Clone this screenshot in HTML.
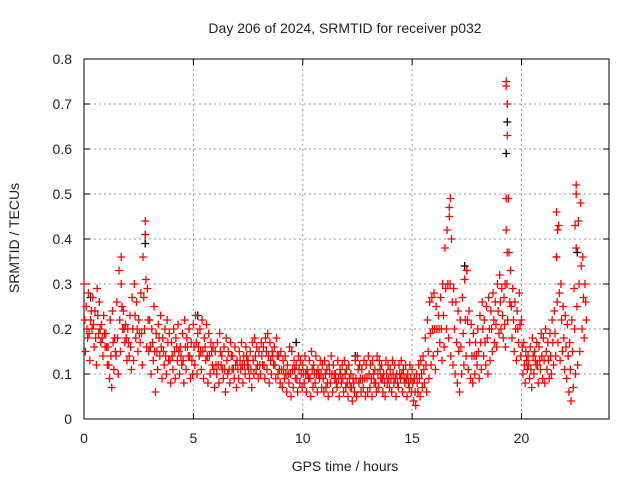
<!DOCTYPE html>
<html><head><meta charset="utf-8"><style>
body{margin:0;background:#fff}
svg text{font-family:"Liberation Sans",sans-serif;font-size:14px;fill:#222}
</style></head><body>
<svg id="chart" width="640" height="480">
<rect width="640" height="480" fill="#fff"/>
<g id="grid"></g>
<g id="axes"></g>
<g id="marks"></g>
<text x="345" y="33" text-anchor="middle">Day 206 of 2024, SRMTID for receiver p032</text>
<text x="345" y="471" text-anchor="middle">GPS time / hours</text>
<text x="19" y="238" text-anchor="middle" transform="rotate(-90 19 238)">SRMTID / TECUs</text>
</svg>
<script>
const xTicks=[0,5,10,15,20];
const yTicks=[0,0.1,0.2,0.3,0.4,0.5,0.6,0.7,0.8];
const yTickLabels=["0","0.1","0.2","0.3","0.4","0.5","0.6","0.7","0.8"];
const seriesHigh=[.30,.25,.28,.22,.27,.24,.29,.26,.21,.23,.19,.16,.22,.24,.18,.26,.33,.30,.24,.21,.20,.23,.27,.30,.26,.22,.28,.36,.41,.29,.22,.20,.25,.19,.21,.23,.18,.20,.22,.19,.17,.20,.18,.21,.16,.19,.22,.18,.20,.17,.21,.23,.19,.20,.22,.18,.21,.19,.17,.16,.15,.17,.19,.14,.16,.18,.15,.17,.14,.16,.13,.15,.17,.14,.16,.13,.15,.17,.18,.16,.15,.17,.16,.18,.19,.17,.15,.16,.18,.14,.15,.13,.14,.12,.16,.15,.13,.12,.14,.13,.12,.14,.11,.13,.15,.12,.14,.11,.13,.12,.13,.11,.12,.14,.12,.10,.13,.11,.12,.13,.11,.12,.10,.09,.13,.14,.12,.11,.13,.12,.14,.12,.13,.11,.14,.13,.12,.10,.13,.12,.11,.13,.12,.10,.12,.13,.11,.12,.10,.12,.11,.09,.10,.12,.13,.14,.18,.22,.26,.27,.28,.25,.23,.27,.30,.38,.42,.47,.40,.29,.26,.24,.22,.27,.31,.33,.24,.21,.19,.17,.20,.23,.26,.22,.25,.27,.24,.28,.26,.30,.32,.29,.27,.42,.49,.33,.29,.26,.24,.28,.22,.17,.15,.14,.16,.18,.15,.17,.16,.19,.18,.20,.17,.19,.22,.24,.36,.43,.30,.25,.23,.21,.17,.22,.29,.38,.44,.48,.36,.30];
const seriesMid=[.22,.20,.19,.24,.21,.18,.23,.20,.18,.19,.16,.12,.14,.17,.15,.18,.22,.25,.20,.18,.17,.16,.20,.23,.20,.19,.19,.27,.31,.22,.16,.17,.15,.15,.18,.16,.15,.14,.17,.13,.14,.15,.16,.15,.14,.13,.16,.16,.14,.13,.16,.17,.16,.15,.15,.16,.14,.14,.15,.11,.12,.12,.15,.11,.11,.13,.11,.14,.11,.12,.11,.13,.12,.12,.14,.11,.11,.13,.14,.12,.12,.14,.12,.15,.14,.13,.14,.12,.14,.11,.11,.11,.10,.10,.10,.11,.11,.09,.11,.10,.10,.10,.10,.09,.11,.10,.10,.10,.10,.09,.10,.08,.10,.10,.10,.08,.09,.10,.09,.10,.08,.09,.07,.08,.09,.11,.09,.09,.09,.09,.10,.09,.10,.08,.10,.11,.09,.08,.10,.09,.09,.10,.09,.08,.10,.10,.09,.09,.08,.09,.08,.06,.08,.09,.10,.11,.12,.15,.19,.20,.20,.20,.20,.20,.23,.29,.30,.30,.26,.20,.17,.15,.16,.19,.22,.22,.17,.14,.14,.14,.15,.17,.20,.17,.18,.20,.20,.22,.21,.24,.26,.23,.21,.30,.37,.25,.22,.20,.20,.21,.16,.12,.13,.12,.11,.14,.13,.12,.13,.14,.13,.15,.13,.14,.17,.19,.26,.28,.22,.18,.16,.14,.11,.15,.20,.25,.30,.34,.27,.26];
const seriesLow=[.15,.18,.13,.20,.16,.12,.19,.17,.14,.16,.12,.09,.07,.11,.14,.10,.15,.20,.17,.13,.14,.11,.13,.18,.15,.17,.12,.20,.16,.15,.10,.13,.06,.11,.14,.09,.12,.10,.13,.08,.11,.09,.13,.10,.12,.08,.11,.14,.09,.10,.12,.10,.14,.11,.09,.13,.08,.10,.12,.07,.10,.08,.12,.09,.06,.10,.08,.11,.09,.07,.09,.11,.08,.10,.12,.09,.07,.10,.11,.09,.10,.12,.09,.11,.08,.10,.12,.09,.10,.08,.07,.09,.06,.08,.05,.07,.09,.06,.08,.07,.08,.06,.09,.05,.07,.08,.06,.09,.07,.06,.07,.05,.08,.06,.09,.07,.05,.08,.06,.07,.05,.07,.04,.06,.05,.08,.06,.07,.05,.06,.07,.05,.08,.06,.07,.09,.06,.05,.08,.07,.06,.08,.05,.07,.09,.06,.08,.05,.07,.06,.04,.03,.06,.05,.07,.08,.06,.09,.12,.14,.11,.15,.17,.13,.16,.20,.18,.14,.12,.10,.08,.06,.10,.12,.14,.11,.09,.08,.10,.12,.09,.11,.14,.12,.10,.13,.15,.17,.16,.19,.20,.18,.16,.22,.26,.18,.15,.13,.17,.14,.10,.08,.11,.09,.07,.10,.12,.08,.11,.09,.08,.11,.09,.10,.12,.14,.17,.13,.15,.11,.09,.06,.04,.07,.10,.12,.15,.20,.18,.22];
const spikeTimes=[19.3,19.3,19.35,19.35,19.3,19.35,16.75,16.7,2.8,2.8,22.5,22.5,22.45,21.6,21.65,17.5,1.7,19.25];
const spikeValues=[.75,.74,.70,.63,.49,.37,.49,.45,.44,.41,.52,.50,.43,.46,.42,.33,.36,.30];
const blackTimes=[19.3,19.35,2.8,9.7,21.6,22.55,17.4,0.3,5.2,12.4];
const blackValues=[.59,.66,.39,.17,.36,.37,.34,.27,.23,.14];

const X0=84,X1=609,Y0=419,Y1=59,XMAX=24,YMAX=0.8;
const xs=t=>X0+(X1-X0)*t/XMAX;
const ys=v=>Y0-(Y0-Y1)*v/YMAX;
const NS="http://www.w3.org/2000/svg";
function mk(tag,attrs,parent){const e=document.createElementNS(NS,tag);for(const k in attrs)e.setAttribute(k,attrs[k]);parent.appendChild(e);return e;}
const grid=document.getElementById('grid'),axes=document.getElementById('axes'),marks=document.getElementById('marks');
xTicks.forEach(t=>{
  const x=xs(t);
  if(t>0){const g=mk('line',{x1:x,x2:x,y1:Y1,y2:Y0,stroke:'#999','stroke-dasharray':'2,3'},grid);
  
  }
  mk('line',{x1:x,x2:x,y1:Y0,y2:Y0-6,stroke:'#000'},axes);
  mk('line',{x1:x,x2:x,y1:Y1,y2:Y1+6,stroke:'#000'},axes);
  const l=mk('text',{x:x,y:Y0+24,'text-anchor':'middle'},axes);l.textContent=t;
  
  
});
yTicks.forEach((v,i)=>{
  const y=ys(v);
  if(i>0&&i<yTicks.length-1){const g=mk('line',{x1:X0,x2:X1,y1:y,y2:y,stroke:'#999','stroke-dasharray':'2,3'},grid);
  
  }
  mk('line',{x1:X0,x2:X0+6,y1:y,y2:y,stroke:'#000'},axes);
  mk('line',{x1:X1,x2:X1-6,y1:y,y2:y,stroke:'#000'},axes);
  const l=mk('text',{x:X0-12,y:y+5,'text-anchor':'end'},axes);l.textContent=yTickLabels[i];
  
  
});
const frame=mk('rect',{x:X0,y:Y1,width:X1-X0,height:Y0-Y1,fill:'none',stroke:'#000'},axes);


function plus(t,v,color,name){
  const x=xs(t),y=ys(v);
  const p=mk('path',{d:`M${x-4},${y}H${x+4}M${x},${y-4}V${y+4}`,stroke:color,'stroke-width':1.3,fill:'none'},marks);
  
  
}
blackTimes.forEach((t,i)=>plus(t,blackValues[i],'#000','black-point'));
seriesHigh.forEach((v,i)=>plus(i*0.1,v,'#f00','srmtid-point'));
seriesMid.forEach((v,i)=>plus(i*0.1+0.033,v,'#f00','srmtid-point'));
seriesLow.forEach((v,i)=>plus(i*0.1+0.066,v,'#f00','srmtid-point'));
spikeTimes.forEach((t,i)=>plus(t,spikeValues[i],'#f00','srmtid-spike-point'));
</script>
</body></html>
